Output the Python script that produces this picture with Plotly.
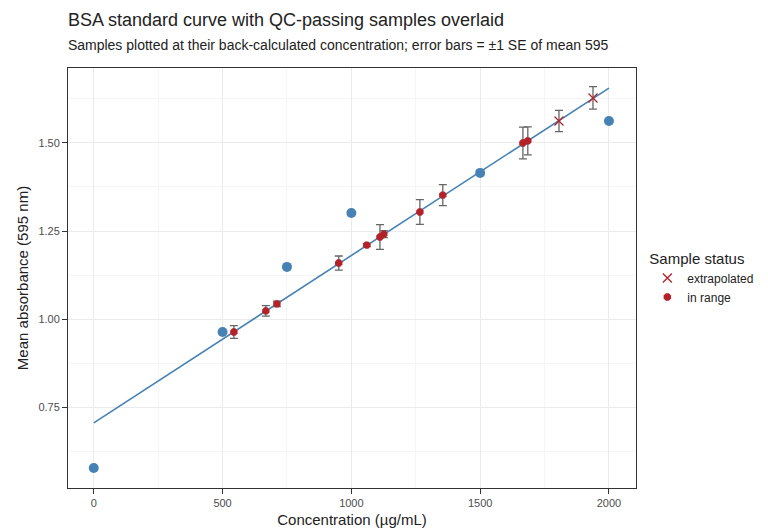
import plotly.graph_objects as go

std_conc = [0, 500, 750, 1000, 1500, 2000]
std_abs = [0.577, 0.963, 1.148, 1.301, 1.415, 1.5625]

fit_x = [0, 2000]
fit_y = [0.705, 1.656]

in_conc = [544, 668, 711, 951, 1060, 1111, 1126, 1266, 1355, 1666, 1685]
in_abs = [0.963, 1.023, 1.043, 1.159, 1.21, 1.233, 1.241, 1.304, 1.352, 1.50, 1.506]
in_se = [0.018, 0.015, 0.008, 0.02, 0.004, 0.035, 0.01, 0.035, 0.03, 0.045, 0.04]

ex_conc = [1806, 1938]
ex_abs = [1.5625, 1.628]
ex_se = [0.03, 0.032]

red = "#B22228"
blue = "#4682B4"
err = dict(type="data", visible=True, color="#666666", thickness=1.3, width=4)

fig = go.Figure()
fig.add_trace(go.Scatter(x=fit_x, y=fit_y, mode="lines", line=dict(color=blue, width=1.6),
                         showlegend=False, hoverinfo="skip"))
fig.add_trace(go.Scatter(x=std_conc, y=std_abs, mode="markers",
                         marker=dict(color=blue, size=10), showlegend=False))
fig.add_trace(go.Scatter(x=ex_conc, y=ex_abs, mode="markers", name="extrapolated",
                         error_y=dict(array=ex_se, **err),
                         marker=dict(symbol="x-thin-open", color=red, size=9,
                                     line=dict(color=red, width=1.3))))
fig.add_trace(go.Scatter(x=in_conc, y=in_abs, mode="markers", name="in range",
                         error_y=dict(array=in_se, **err),
                         marker=dict(symbol="octagon", color=red, size=8)))

fig.update_layout(
    width=768, height=528, plot_bgcolor="white", paper_bgcolor="white",
    font=dict(family="Liberation Sans, Arial", color="#222"),
    margin=dict(l=60, r=140, t=60, b=48, autoexpand=False),
    title=dict(text="BSA standard curve with QC-passing samples overlaid<br>"
                    "<span style='font-size:14px'>Samples plotted at their back-calculated "
                    "concentration; error bars = ±1 SE of mean 595</span>",
               x=0.078, xanchor="left", y=0.965, font=dict(size=18)),
    legend=dict(title=dict(text="Sample status", font=dict(size=15)), x=1.02, y=0.5,
                yanchor="middle", font=dict(size=12)),
    xaxis=dict(title=dict(text="Concentration (µg/mL)", font=dict(size=15), standoff=6),
               automargin=False,
               range=[-100, 2105], tickvals=[0, 500, 1000, 1500, 2000],
               showgrid=True, gridcolor="#EBEBEB", zeroline=False,
               showline=True, linecolor="#333", mirror=True, ticks="outside",
               tickcolor="#333", tickfont=dict(color="#4D4D4D", size=11),
               minor=dict(tickvals=[250, 750, 1250, 1750], showgrid=True, gridcolor="#F5F5F5")),
    yaxis=dict(title=dict(text="Mean absorbance (595 nm)", font=dict(size=15), standoff=6),
               automargin=False,
               range=[0.52, 1.713], tickvals=[0.75, 1.0, 1.25, 1.5],
               ticktext=["0.75", "1.00", "1.25", "1.50"],
               showgrid=True, gridcolor="#EBEBEB", zeroline=False,
               showline=True, linecolor="#333", mirror=True, ticks="outside",
               tickcolor="#333", tickfont=dict(color="#4D4D4D", size=11),
               minor=dict(tickvals=[0.625, 0.875, 1.125, 1.375, 1.625], showgrid=True,
                          gridcolor="#F5F5F5")),
)
fig.write_html("out.html")
